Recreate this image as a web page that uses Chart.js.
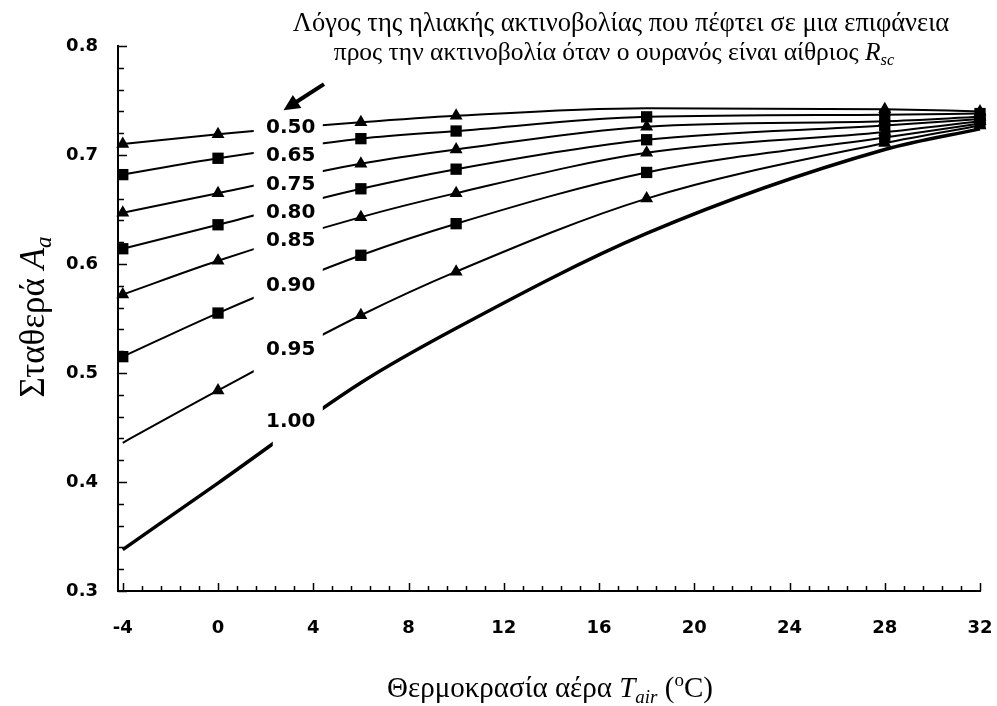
<!DOCTYPE html>
<html>
<head>
<meta charset="utf-8">
<script src="https://cdn.jsdelivr.net/npm/chart.js@4"></script>
<style>
  html, body { margin: 0; padding: 0; background: #fff; }
</style>
</head>
<body>
<canvas id="chart" width="997" height="706"></canvas>
<script>
// air temperature (°C) where the curves were sampled
const tempsC = [-4, 0, 6, 10, 18, 28, 32];
const rscLabels = ["0.50", "0.65", "0.75", "0.80", "0.85", "0.90", "0.95", "1.00"];

// constant A_a for each clear-sky ratio R_sc
const aa050 = [0.710, 0.719, 0.730, 0.736, 0.743, 0.742, 0.740];
const aa065 = [0.682, 0.697, 0.715, 0.722, 0.735, 0.737, 0.738];
const aa075 = [0.647, 0.665, 0.692, 0.705, 0.726, 0.731, 0.735];
const aa080 = [0.614, 0.636, 0.669, 0.687, 0.714, 0.727, 0.733];
const aa085 = [0.572, 0.603, 0.643, 0.665, 0.702, 0.721, 0.731];
const aa090 = [0.515, 0.555, 0.608, 0.637, 0.684, 0.716, 0.729];
const aa095 = [0.436, 0.484, 0.553, 0.593, 0.660, 0.711, 0.727];
const aa100 = [0.338, 0.399, 0.491, 0.541, 0.628, 0.705, 0.724];

// A_a value where each curve label sits
const labelAa = [0.725, 0.699, 0.673, 0.647, 0.621, 0.580, 0.521, 0.455];

const xTickLabels = [-4, 0, 4, 8, 12, 16, 20, 24, 28, 32];
const yTickLabels = [0.3, 0.4, 0.5, 0.6, 0.7, 0.8];

const series = [aa050, aa065, aa075, aa080, aa085, aa090, aa095, aa100];

const serif = "Liberation Serif";

function makeDataset(vals, i) {
  const isLast = i === series.length - 1;
  const tri = i % 2 === 0;
  const radius = vals.map((v, k) => {
    if (isLast) return 0;
    if (i === 6 && k === 0) return 0;
    if (i === 0 && k === 4) return 0;
    return tri ? 7.5 : 8;
  });
  return {
    label: rscLabels[i],
    data: tempsC.map((t, k) => ({ x: t, y: vals[k] })),
    borderColor: "#000",
    backgroundColor: "#000",
    borderWidth: isLast ? 3.5 : 2,
    pointStyle: tri ? "triangle" : "rect",
    pointRadius: radius,
    pointHoverRadius: radius,
    pointBorderWidth: 0,
    cubicInterpolationMode: "monotone",
    clip: false,
  };
}

// inward minor/major tick marks
const innerTicks = {
  id: "innerTicks",
  afterDraw(chart) {
    const { ctx, scales: { x, y } } = chart;
    ctx.save();
    ctx.strokeStyle = "#000";
    ctx.lineWidth = 1.5;
    ctx.beginPath();
    for (let k = 0; k <= 45; k++) {
      const v = -4 + k * 0.8;
      const px = Math.round(x.getPixelForValue(v)) + 0.5;
      const len = k % 5 === 0 ? 8 : 5;
      ctx.moveTo(px, y.bottom);
      ctx.lineTo(px, y.bottom - len);
    }
    for (let k = 0; k <= 25; k++) {
      const v = 0.3 + k * 0.02;
      const py = Math.round(y.getPixelForValue(v)) + 0.5;
      const len = k % 5 === 0 ? 9 : 6;
      ctx.moveTo(x.left, py);
      ctx.lineTo(x.left + len, py);
    }
    ctx.stroke();
    ctx.restore();
  },
};

// curve labels with white gap in the lines
const curveLabels = {
  id: "curveLabels",
  afterDatasetsDraw(chart) {
    const { ctx, scales: { x, y } } = chart;
    const left = x.getPixelForValue(1.5);
    const right = x.getPixelForValue(4.4);
    const top = y.getPixelForValue(labelAa[0]) - 14;
    const bot = y.getPixelForValue(labelAa[6]) + 26;
    ctx.save();
    ctx.fillStyle = "#fff";
    ctx.fillRect(left, top, right - left, bot - top);
    const l2 = x.getPixelForValue(2.3);
    const p7 = y.getPixelForValue(labelAa[7]);
    ctx.fillRect(l2, p7 - 22, right - l2, 50);
    ctx.fillStyle = "#000";
    ctx.font = "bold 20px 'DejaVu Sans'";
    ctx.textAlign = "center";
    ctx.textBaseline = "middle";
    const cx = x.getPixelForValue(3.05);
    rscLabels.forEach((t, i) => {
      ctx.fillText(t, cx, y.getPixelForValue(labelAa[i]));
    });
    // arrow pointing at the labels
    const x0 = x.getPixelForValue(4.45), y0 = y.getPixelForValue(0.765);
    const x1 = x.getPixelForValue(2.75), y1 = y.getPixelForValue(0.741);
    const ang = Math.atan2(y1 - y0, x1 - x0);
    ctx.strokeStyle = "#000";
    ctx.lineWidth = 4;
    ctx.beginPath();
    ctx.moveTo(x0, y0);
    ctx.lineTo(x1 - Math.cos(ang) * 12, y1 - Math.sin(ang) * 12);
    ctx.stroke();
    ctx.beginPath();
    ctx.moveTo(x1, y1);
    ctx.lineTo(x1 - Math.cos(ang - 0.45) * 18, y1 - Math.sin(ang - 0.45) * 18);
    ctx.lineTo(x1 - Math.cos(ang + 0.45) * 18, y1 - Math.sin(ang + 0.45) * 18);
    ctx.closePath();
    ctx.fill();
    ctx.restore();
  },
};

function drawRich(ctx, parts, cx, cy) {
  let w = 0;
  parts.forEach(p => { ctx.font = p.font; p.w = ctx.measureText(p.text).width; w += p.w; });
  let px = cx - w / 2;
  ctx.textAlign = "left";
  ctx.textBaseline = "alphabetic";
  parts.forEach(p => {
    ctx.font = p.font;
    ctx.fillText(p.text, px, cy + (p.dy || 0));
    px += p.w;
  });
}

const titles = {
  id: "titles",
  afterDraw(chart) {
    const { ctx } = chart;
    const f = (s, st) => (st ? st + " " : "") + s + "px '" + serif + "'";
    ctx.save();
    ctx.fillStyle = "#000";
    drawRich(ctx, [
      { text: "Λόγος της ηλιακής ακτινοβολίας που πέφτει σε μια επιφάνεια", font: f(26.5) },
    ], 621, 31);
    drawRich(ctx, [
      { text: "προς την ακτινοβολία όταν ο ουρανός είναι αίθριος ", font: f(25.5) },
      { text: "R", font: f(25.5, "italic") },
      { text: "sc", font: f(16.5, "italic"), dy: 5 },
    ], 614, 60);
    drawRich(ctx, [
      { text: "Θερμοκρασία αέρα ", font: f(29) },
      { text: "T", font: f(29, "italic") },
      { text: "air", font: f(19, "italic"), dy: 6 },
      { text: " (", font: f(29) },
      { text: "o", font: f(19), dy: -11 },
      { text: "C)", font: f(29) },
    ], 550, 697);
    ctx.translate(44, 317);
    ctx.rotate(-Math.PI / 2);
    drawRich(ctx, [
      { text: "Σταθερά ", font: f(35) },
      { text: "A", font: f(35, "italic") },
      { text: "a", font: f(23, "italic"), dy: 7 },
    ], 0, 0);
    ctx.restore();
  },
};

new Chart(document.getElementById("chart"), {
  type: "line",
  data: { datasets: series.map(makeDataset) },
  options: {
    responsive: false,
    animation: false,
    events: [],
    layout: { padding: { left: 0, right: 17, top: 46, bottom: 0 } },
    plugins: { legend: { display: false }, tooltip: { enabled: false } },
    scales: {
      x: {
        type: "linear",
        min: -4.2,
        max: 32,
        afterBuildTicks: s => { s.ticks = xTickLabels.map(v => ({ value: v })); },
        afterFit: s => { s.height = 115; },
        grid: { display: false, drawTicks: false },
        border: { display: true, color: "#000", width: 2 },
        ticks: {
          color: "#000",
          font: { family: "DejaVu Sans", weight: "bold", size: 18, lineHeight: 3.667 },
          padding: 4,
          maxRotation: 0,
          autoSkip: false,
        },
      },
      y: {
        type: "linear",
        min: 0.3,
        max: 0.8,
        afterBuildTicks: s => { s.ticks = yTickLabels.map(v => ({ value: v })); },
        afterFit: s => { s.width = 118; },
        grid: { display: false, drawTicks: false },
        border: { display: true, color: "#000", width: 2 },
        ticks: {
          color: "#000",
          font: { family: "DejaVu Sans", weight: "bold", size: 18 },
          padding: 20,
          callback: v => Number(v).toFixed(1),
        },
      },
    },
  },
  plugins: [innerTicks, curveLabels, titles],
});
</script>
</body>
</html>
